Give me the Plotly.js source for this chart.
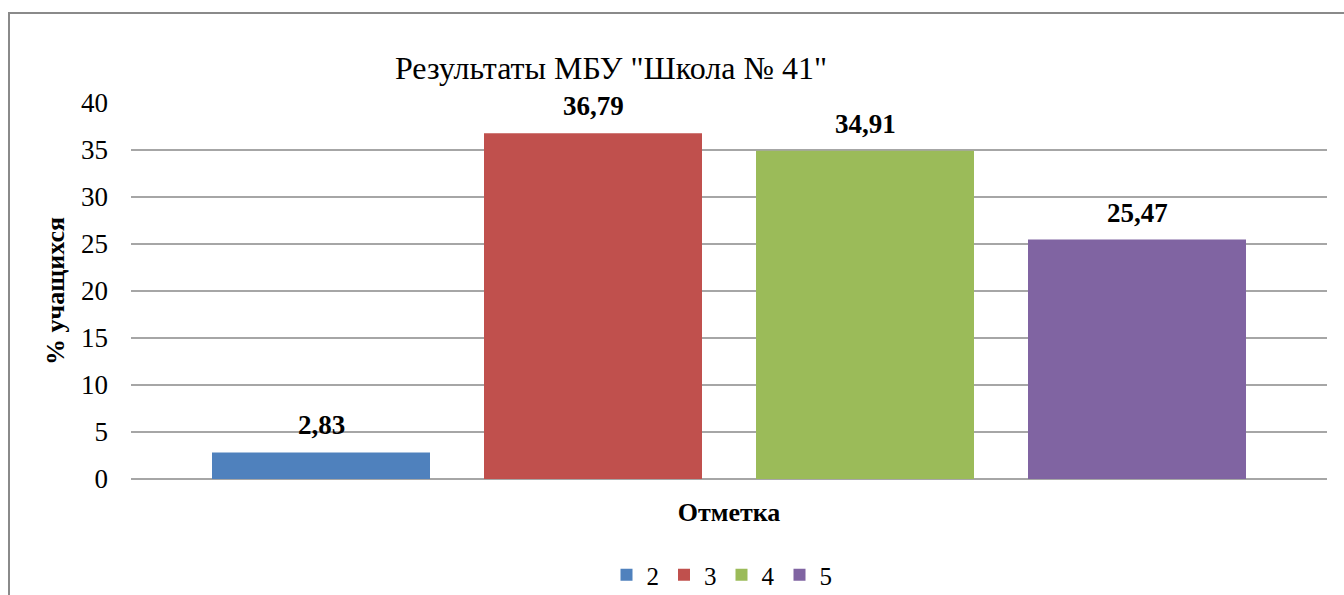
<!DOCTYPE html>
<html>
<head>
<meta charset="utf-8">
<script src="https://cdn.plot.ly/plotly-3.0.1.min.js"></script>
<style>
html,body{margin:0;padding:0;background:#fff;font-family:'Liberation Serif';}
#chart{width:1344px;height:595px;}
</style>
</head>
<body>
<div id="chart"></div>
<script>
const categories = ['Отметка'];
const seriesNames = ['2', '3', '4', '5'];
const seriesValues = [2.83, 36.79, 34.91, 25.47];
const seriesColors = ['#4F81BD', '#C0504D', '#9BBB59', '#8064A2'];
const yTicks = [0, 5, 10, 15, 20, 25, 30, 35, 40];

const FONT = 'Liberation Serif';
const BARGAP = 0.0903;
const BARGROUPGAP = 0.1985;

const traces = seriesNames.map((name, i) => ({
  type: 'bar',
  name: name,
  x: categories,
  y: [seriesValues[i]],
  marker: {color: seriesColors[i]},
  hoverinfo: 'name+y'
}));

// data labels placed at each grouped bar's centre (derived from the group layout)
const nSeries = seriesNames.length;
const slot = (1 - BARGAP) / nSeries;
const labels = seriesValues.map((v, i) => ({
  xref: 'x', yref: 'y',
  x: (i - (nSeries - 1) / 2) * slot,
  y: v,
  yanchor: 'bottom', xanchor: 'center',
  yshift: 10,
  showarrow: false,
  text: '<b>' + v.toFixed(2).replace('.', ',') + '</b>',
  font: {family: FONT, size: 27, color: '#000'}
}));

const L = 131, R = 1327, T = 103, B = 479, W = 1344, H = 595;
const pw = R - L, ph = B - T;

const layout = {
  width: W, height: H,
  margin: {l: L, r: W - R, t: T, b: H - B, pad: 0, autoexpand: false},
  paper_bgcolor: '#fff',
  plot_bgcolor: '#fff',
  font: {family: FONT, color: '#000', size: 26},
  barmode: 'group',
  bargap: BARGAP,
  bargroupgap: BARGROUPGAP,
  showlegend: true,
  title: {
    text: 'Результаты МБУ "Школа № 41"',
    font: {family: FONT, size: 32, color: '#000'},
    xref: 'paper', x: (611 - L) / pw, xanchor: 'center',
    yref: 'container', y: 1 - 68 / H, yanchor: 'middle'
  },
  xaxis: {
    type: 'category',
    showticklabels: false,
    showgrid: false,
    zeroline: false,
    showline: false,
    ticks: '',
    fixedrange: true,
    automargin: false,
    title: {text: '<b>Отметка</b>', font: {family: FONT, size: 26, color: '#000'}, standoff: 23}
  },
  yaxis: {
    range: [0, 40],
    tickvals: yTicks,
    ticktext: yTicks.map(String),
    showgrid: true,
    gridcolor: '#a6a6a6',
    gridwidth: 2,
    zeroline: true,
    zerolinecolor: '#a6a6a6',
    zerolinewidth: 2,
    showline: false,
    ticks: '',
    ticklabelstandoff: 22,
    tickfont: {family: FONT, size: 27, color: '#000'},
    automargin: false,
    fixedrange: true,
    title: {text: '<b>% учащихся</b>', font: {family: FONT, size: 26, color: '#000'}, standoff: 8}
  },
  legend: {
    orientation: 'h',
    xref: 'container', yref: 'container',
    x: 722 / W, xanchor: 'center',
    y: 1 - 575 / H, yanchor: 'middle',
    font: {family: FONT, size: 25, color: '#000'},
    itemwidth: 30,
    bgcolor: 'rgba(0,0,0,0)'
  },
  annotations: labels,
  shapes: [{
    type: 'rect', xref: 'paper', yref: 'paper', layer: 'below',
    x0: (9 - L) / pw, x1: (W + 20 - L) / pw,
    y0: (B - (H + 20)) / ph, y1: (B - 13) / ph,
    line: {color: '#8a8a8a', width: 2},
    fillcolor: 'rgba(0,0,0,0)'
  }]
};

Plotly.newPlot('chart', traces, layout, {displayModeBar: false, staticPlot: true});
</script>
</body>
</html>
